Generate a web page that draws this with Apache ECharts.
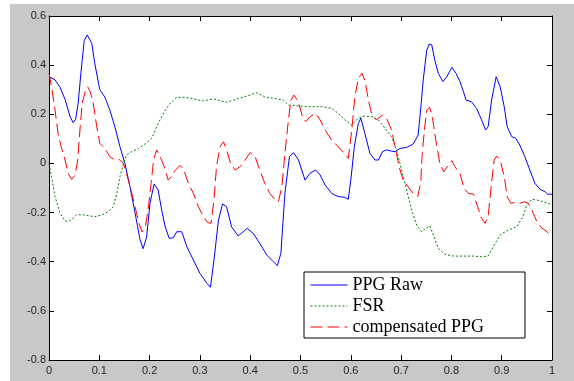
<!DOCTYPE html>
<html>
<head>
<meta charset="utf-8">
<script src="https://cdn.jsdelivr.net/npm/echarts@6/dist/echarts.min.js"></script>
<style>
  html, body { margin: 0; padding: 0; background: #fff; }
  #main { position: absolute; left: 10px; top: 4px; width: 564px; height: 377px; background: #c8c8c8; }
</style>
</head>
<body>
<div id="main"></div>
<script>
// series names (legend)
const seriesNames = ['PPG Raw', 'FSR', 'compensated PPG'];

// [x, y] points
const ppgRaw = [[0,0.353],[0.012,0.34],[0.022,0.31],[0.032,0.26],[0.042,0.19],[0.048,0.166],[0.053,0.18],[0.058,0.246],[0.064,0.38],[0.070,0.50],[0.076,0.523],[0.085,0.489],[0.091,0.407],[0.101,0.30],[0.111,0.27],[0.121,0.217],[0.131,0.149],[0.141,0.068],[0.151,0.0],[0.161,-0.095],[0.171,-0.20],[0.181,-0.31],[0.187,-0.347],[0.194,-0.30],[0.201,-0.16],[0.209,-0.084],[0.217,-0.108],[0.224,-0.19],[0.231,-0.258],[0.239,-0.305],[0.247,-0.303],[0.254,-0.278],[0.264,-0.278],[0.274,-0.339],[0.287,-0.393],[0.300,-0.447],[0.314,-0.488],[0.321,-0.504],[0.328,-0.393],[0.337,-0.230],[0.345,-0.165],[0.353,-0.176],[0.363,-0.258],[0.376,-0.295],[0.386,-0.278],[0.394,-0.264],[0.406,-0.285],[0.419,-0.325],[0.433,-0.373],[0.446,-0.40],[0.454,-0.416],[0.461,-0.366],[0.469,-0.122],[0.478,0.027],[0.486,0.044],[0.496,0.014],[0.509,-0.068],[0.519,-0.040],[0.530,-0.027],[0.539,-0.047],[0.549,-0.088],[0.562,-0.122],[0.575,-0.135],[0.588,-0.138],[0.595,-0.146],[0.600,-0.068],[0.607,0.068],[0.615,0.163],[0.620,0.184],[0.628,0.122],[0.638,0.041],[0.648,0.014],[0.655,0.014],[0.663,0.048],[0.671,0.055],[0.681,0.05],[0.688,0.048],[0.698,0.061],[0.711,0.065],[0.724,0.079],[0.734,0.116],[0.740,0.245],[0.744,0.34],[0.751,0.461],[0.756,0.486],[0.761,0.482],[0.767,0.42],[0.774,0.367],[0.783,0.333],[0.791,0.353],[0.801,0.391],[0.809,0.367],[0.817,0.333],[0.824,0.292],[0.829,0.258],[0.840,0.251],[0.850,0.224],[0.860,0.177],[0.868,0.136],[0.873,0.149],[0.880,0.258],[0.889,0.353],[0.897,0.312],[0.905,0.231],[0.911,0.149],[0.920,0.109],[0.928,0.102],[0.936,0.075],[0.946,0.027],[0.956,-0.027],[0.966,-0.081],[0.976,-0.105],[0.986,-0.115],[0.991,-0.125],[1,-0.125]];

const fsr = [[0,-0.002],[0.005,-0.054],[0.012,-0.135],[0.022,-0.203],[0.032,-0.234],[0.038,-0.237],[0.045,-0.228],[0.055,-0.209],[0.068,-0.209],[0.082,-0.214],[0.091,-0.217],[0.105,-0.21],[0.118,-0.196],[0.128,-0.176],[0.135,-0.122],[0.141,-0.054],[0.148,0.0],[0.154,0.034],[0.164,0.048],[0.178,0.061],[0.191,0.079],[0.204,0.102],[0.217,0.163],[0.231,0.217],[0.241,0.245],[0.254,0.269],[0.270,0.269],[0.287,0.263],[0.307,0.254],[0.327,0.263],[0.340,0.255],[0.354,0.249],[0.373,0.262],[0.393,0.274],[0.413,0.288],[0.429,0.271],[0.446,0.265],[0.466,0.258],[0.476,0.238],[0.496,0.234],[0.516,0.231],[0.542,0.231],[0.562,0.224],[0.575,0.204],[0.588,0.177],[0.602,0.156],[0.615,0.184],[0.628,0.193],[0.642,0.19],[0.655,0.177],[0.668,0.143],[0.681,0.109],[0.691,0.055],[0.701,-0.027],[0.711,-0.108],[0.721,-0.19],[0.731,-0.251],[0.741,-0.278],[0.747,-0.268],[0.757,-0.254],[0.764,-0.291],[0.774,-0.346],[0.787,-0.370],[0.804,-0.377],[0.824,-0.377],[0.844,-0.377],[0.860,-0.380],[0.873,-0.377],[0.883,-0.339],[0.897,-0.291],[0.913,-0.271],[0.930,-0.258],[0.942,-0.217],[0.950,-0.169],[0.960,-0.146],[0.970,-0.149],[0.983,-0.156],[0.996,-0.165],[1,-0.168]];

const compensatedPpg = [[0,0.367],[0.005,0.312],[0.012,0.217],[0.018,0.122],[0.025,0.061],[0.032,0.014],[0.038,-0.040],[0.045,-0.065],[0.052,-0.047],[0.057,0.014],[0.062,0.149],[0.066,0.245],[0.072,0.292],[0.077,0.312],[0.082,0.292],[0.088,0.245],[0.095,0.149],[0.101,0.082],[0.111,0.061],[0.121,0.027],[0.131,0.014],[0.139,0.017],[0.148,0.0],[0.154,-0.040],[0.163,-0.108],[0.171,-0.176],[0.179,-0.244],[0.185,-0.279],[0.191,-0.264],[0.197,-0.19],[0.203,-0.081],[0.208,0.014],[0.214,0.055],[0.221,0.027],[0.229,-0.013],[0.237,-0.068],[0.245,-0.05],[0.250,-0.03],[0.260,-0.009],[0.267,-0.020],[0.277,-0.081],[0.287,-0.122],[0.297,-0.176],[0.307,-0.217],[0.315,-0.240],[0.322,-0.244],[0.328,-0.149],[0.333,-0.013],[0.340,0.068],[0.347,0.088],[0.353,0.055],[0.361,0.0],[0.370,-0.027],[0.380,-0.013],[0.390,0.014],[0.400,0.044],[0.410,0.027],[0.419,-0.027],[0.429,-0.081],[0.439,-0.122],[0.449,-0.146],[0.456,-0.156],[0.463,-0.095],[0.469,0.041],[0.476,0.177],[0.481,0.258],[0.487,0.278],[0.495,0.255],[0.504,0.19],[0.510,0.170],[0.519,0.19],[0.530,0.204],[0.539,0.177],[0.549,0.136],[0.562,0.095],[0.575,0.068],[0.587,0.041],[0.595,0.021],[0.602,0.136],[0.608,0.271],[0.615,0.346],[0.622,0.367],[0.628,0.339],[0.635,0.258],[0.642,0.197],[0.651,0.177],[0.663,0.197],[0.671,0.184],[0.681,0.136],[0.688,0.068],[0.696,-0.013],[0.704,-0.068],[0.714,-0.095],[0.724,-0.122],[0.733,-0.135],[0.739,-0.08],[0.742,0.041],[0.747,0.149],[0.751,0.217],[0.757,0.228],[0.762,0.19],[0.769,0.095],[0.777,0.0],[0.785,-0.034],[0.794,-0.007],[0.801,0.011],[0.807,-0.013],[0.817,-0.04],[0.825,-0.101],[0.834,-0.122],[0.844,-0.125],[0.851,-0.169],[0.860,-0.223],[0.867,-0.244],[0.873,-0.217],[0.879,-0.095],[0.885,0.014],[0.890,0.030],[0.897,0.014],[0.905,-0.054],[0.911,-0.135],[0.918,-0.162],[0.926,-0.160],[0.936,-0.162],[0.946,-0.156],[0.953,-0.162],[0.960,-0.19],[0.970,-0.237],[0.980,-0.264],[0.986,-0.271],[1,-0.298]];

// axis ranges
const xMin = 0, xMax = 1, xStep = 0.1;
const yMin = -0.8, yMax = 0.6, yStep = 0.2;

const fmt = v => String(Math.round(v * 10) / 10);

const chart = echarts.init(document.getElementById('main'));

const axisLine = { show: true, onZero: false, lineStyle: { color: '#000', width: 1 } };
const axisTick = { show: true, inside: true, length: 5, lineStyle: { color: '#000' } };
const axisLabel = { color: '#262626', fontFamily: 'Liberation Sans', fontSize: 11, formatter: fmt };

const option = {
    animation: false,
    grid: { left: 39, top: 12, width: 503, height: 344, backgroundColor: '#fff', show: true, borderWidth: 0 },
    legend: {
        orient: 'vertical',
        left: 294,
        top: 268,
        data: seriesNames,
        backgroundColor: '#fff',
        borderColor: '#000',
        borderWidth: 1,
        borderRadius: 0,
        padding: [4, 41, 2, 6],
        itemWidth: 37,
        itemHeight: 14,
        itemGap: 3,
        itemStyle: { opacity: 0 },
        lineStyle: { width: 1 },
        textStyle: { fontFamily: 'Liberation Serif', fontSize: 18, color: '#000' }
    },
    xAxis: [
        { type: 'value', min: xMin, max: xMax, interval: xStep, position: 'bottom',
          axisLine, axisTick, axisLabel: { ...axisLabel, margin: 5 }, splitLine: { show: false } },
        { type: 'value', min: xMin, max: xMax, interval: xStep, position: 'top',
          axisLine, axisTick, axisLabel: { show: false }, splitLine: { show: false } }
    ],
    yAxis: [
        { type: 'value', min: yMin, max: yMax, interval: yStep, position: 'left',
          axisLine, axisTick, axisLabel: { ...axisLabel, margin: 3 }, splitLine: { show: false } },
        { type: 'value', min: yMin, max: yMax, interval: yStep, position: 'right',
          axisLine, axisTick, axisLabel: { show: false }, splitLine: { show: false } }
    ],
    series: [
        { name: seriesNames[0], type: 'line', data: ppgRaw, symbol: 'none',
          lineStyle: { color: '#0000ff', width: 1, type: 'solid' }, itemStyle: { color: '#0000ff' } },
        { name: seriesNames[1], type: 'line', data: fsr, symbol: 'none',
          lineStyle: { color: '#008000', width: 1, type: [2, 2] }, itemStyle: { color: '#008000' } },
        { name: seriesNames[2], type: 'line', data: compensatedPpg, symbol: 'none',
          lineStyle: { color: '#ff0000', width: 1, type: [12, 5] }, itemStyle: { color: '#ff0000' } }
    ]
};
chart.setOption(option);
</script>
</body>
</html>
